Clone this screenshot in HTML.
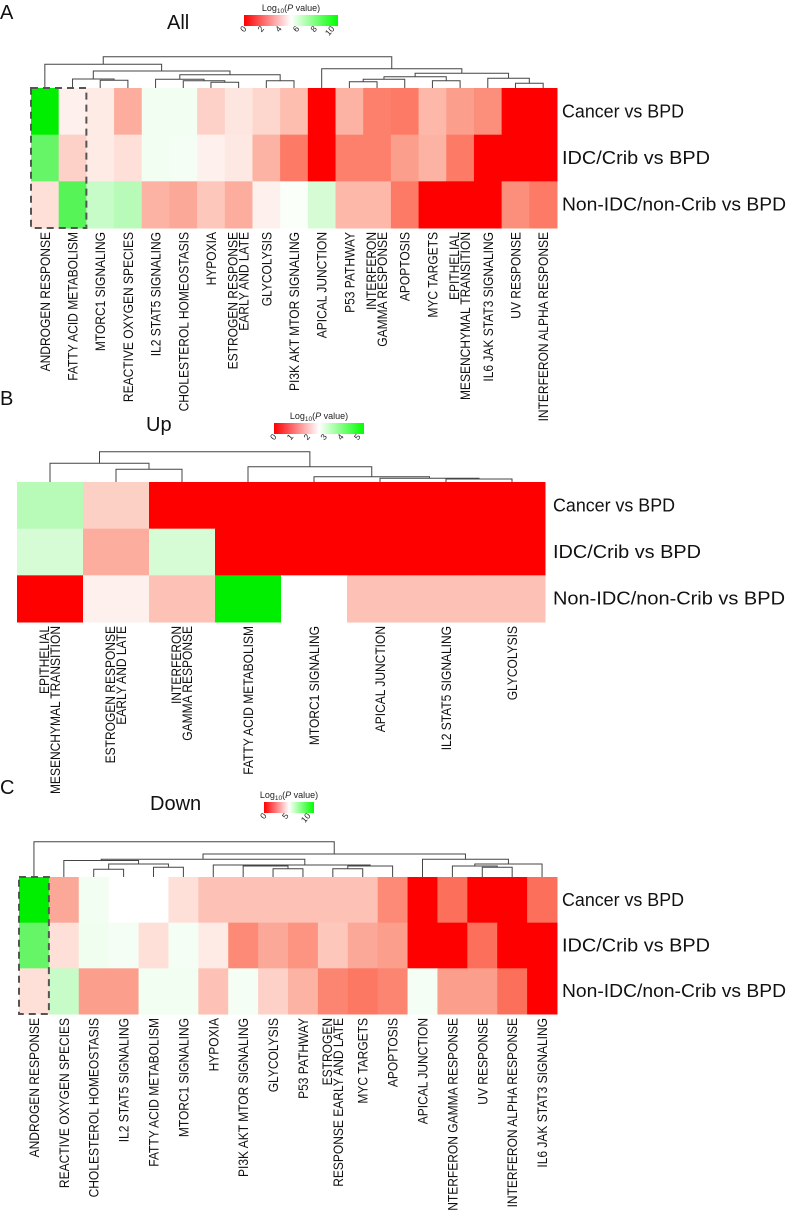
<!DOCTYPE html>
<html><head><meta charset="utf-8"><style>
html,body{margin:0;padding:0;background:#fff;}
svg{display:block;font-family:"Liberation Sans",sans-serif;}
</style></head><body>
<svg id="fig" width="788" height="1210" viewBox="0 0 788 1210" xmlns="http://www.w3.org/2000/svg">
<defs>
<linearGradient id="gradA" x1="0" x2="1" y1="0" y2="0"><stop offset="0" stop-color="#ff0000"/><stop offset="0.5" stop-color="#ffffff"/><stop offset="1" stop-color="#00ff00"/></linearGradient>
</defs>
</svg>
<script>
// ---------- data ----------
const rowLabels = ["Cancer vs BPD","IDC/Crib vs BPD","Non-IDC/non-Crib vs BPD"];

const catsA = ["ANDROGEN RESPONSE","FATTY ACID METABOLISM","MTORC1 SIGNALING","REACTIVE OXYGEN SPECIES","IL2 STAT5 SIGNALING","CHOLESTEROL HOMEOSTASIS","HYPOXIA","ESTROGEN RESPONSE\nEARLY AND LATE","GLYCOLYSIS","PI3K AKT MTOR SIGNALING","APICAL JUNCTION","P53 PATHWAY","INTERFERON\nGAMMA RESPONSE","APOPTOSIS","MYC TARGETS","EPITHELIAL\nMESENCHYMAL TRANSITION","IL6 JAK STAT3 SIGNALING","UV RESPONSE","INTERFERON ALPHA RESPONSE"];
const cancerA = [10,4.7,4.6,3.4,5.25,5.25,4.1,4.5,4.2,3.7,0,3.5,2.5,2.4,3.6,3.1,2.8,0,0];
const idcA    = [8,4.1,4.6,4.4,5.25,5.2,4.7,4.55,3.5,2.4,0,2.5,2.5,3.1,3.5,2.4,0,0,0];
const nonA    = [4.4,8.3,6.1,6.4,3.5,3.3,3.9,3.4,4.7,5.1,5.8,3.6,3.6,2.4,0,0,0,2.8,2.4];
const ticksA = ["0","2","4","6","8","10"];
const mergesA = [[2,3,80.3],[1,"m0",79],[6,7,82.3],[5,"m2",80.7],[4,"m3",79.3],[8,9,80.7],["m4","m5",74.7],["m1","m6",71],[0,"m7",64.3],
 [11,12,81.7],["m9",13,79.3],[14,15,80.7],["m10","m11",76.7],[17,18,83.3],[16,"m13",78.3],["m12","m14",73.3],[10,"m15",68.7],["m8","m16",56.7]];

const catsB = ["EPITHELIAL\nMESENCHYMAL TRANSITION","ESTROGEN RESPONSE\nEARLY AND LATE","INTERFERON\nGAMMA RESPONSE","FATTY ACID METABOLISM","MTORC1 SIGNALING","APICAL JUNCTION","IL2 STAT5 SIGNALING","GLYCOLYSIS"];
const cancerB = [3.2,2.04,0,0,0,0,0,0];
const idcB    = [2.9,1.7,2.9,0,0,0,0,0];
const nonB    = [0,2.35,1.9,5,2.5,1.9,1.9,1.9];
const ticksB = ["0","1","2","3","4","5"];
const mergesB = [[1,2,469.3],[0,"m0",463.3],[6,7,479],[5,"m2",478.3],[4,"m3",476.7],[3,"m4",466.7],["m1","m5",451.7]];

const catsC = ["ANDROGEN RESPONSE","REACTIVE OXYGEN SPECIES","CHOLESTEROL HOMEOSTASIS","IL2 STAT5 SIGNALING","FATTY ACID METABOLISM","MTORC1 SIGNALING","HYPOXIA","PI3K AKT MTOR SIGNALING","GLYCOLYSIS","P53 PATHWAY","ESTROGEN\nRESPONSE EARLY AND LATE","MYC TARGETS","APOPTOSIS","APICAL JUNCTION","INTERFERON GAMMA RESPONSE","UV RESPONSE","INTERFERON ALPHA RESPONSE","IL6 JAK STAT3 SIGNALING"];
const cancerC = [10,3.3,5.25,5.0,5.0,4.4,3.8,3.8,3.8,3.8,3.8,3.8,2.7,0,2.2,0,0,2.2];
const idcC    = [8,4.4,5.3,5.2,4.4,5.2,4.6,2.7,3.3,2.9,3.9,3.3,3.1,0,0,2.2,0,0];
const nonC    = [4.4,6.1,3.1,3.1,5.25,5.25,3.8,5.2,4.1,3.5,2.6,2.35,2.6,5.2,3.1,3.1,2.2,0];
const ticksC = ["0","5","10"];
const mergesC = [[2,3,869.3],[4,5,867.3],["m0","m1",864],[8,9,868.7],[7,"m3",866],[6,"m4",865],[10,11,868.7],["m6",12,866],["m5","m7",865],[1,"m2",860.5],["m9","m8",859.3],[15,16,867.3],[14,"m11",866],["m12",17,864],[13,"m13",859.3],["m10","m14",854],[0,"m15",841.7]];

// ---------- drawing ----------
const NS = "http://www.w3.org/2000/svg";
const svg = document.getElementById("fig");
function mk(tag, attrs, parent){
  const e = document.createElementNS(NS, tag);
  for (const k in attrs) e.setAttribute(k, attrs[k]);
  (parent||svg).appendChild(e);
  return e;
}
function colorFor(v, max){
  const t = Math.max(0, Math.min(1, v/max));
  let r,g,b;
  if (t < 0.5){ const f = t/0.5; r=Math.round(255 - 6*(1-f)*f*2); g=Math.round(255*f); b=Math.round(255*Math.pow(f,1.25)); }
  else { const f=(t-0.5)/0.5; r=Math.round(255*(1-f)); g=Math.round(255 - 17*f); b=Math.round(255*(1-f)); }
  return "rgb("+r+","+g+","+b+")";
}
function drawPanel(p){
  const g = mk("g", {});
  
  
  const n = p.cats.length;
  const cw = (p.x1 - p.x0)/n;
  const rh = (p.y1 - p.y0)/p.series.length;
  const xC = i => p.x0 + (i+0.5)*cw;
  p.series.forEach((vals, r) => {
    vals.forEach((v, c) => {
      const cell = mk("rect", {x:p.x0 + c*cw, y:p.y0 + r*rh, width:cw+0.5, height:rh+0.5, fill:colorFor(v, p.max)}, g);
      
      
    });
    const lab = mk("text", {x:p.rowX, y:p.y0 + r*rh + rh/2 + 6, "font-size":18, fill:"#111", textLength:p.rowW[r], lengthAdjust:"spacingAndGlyphs"}, g);
    lab.textContent = rowLabels[r];
    
    
  });
  p.cats.forEach((name, c) => {
    const lines = name.split("\n");
    lines.forEach((ln, k) => {
      const off = lines.length === 1 ? 5 : (k === 0 ? -1 : 10);
      const t = mk("text", {transform:"translate("+(xC(c)+off)+","+(p.y1+4)+") rotate(-90) scale(0.89,1)", "text-anchor":"end", "font-size":13.5, fill:"#111"}, g);
      t.textContent = ln;
      
      
    });
  });
  const nodes = [];
  const pos = id => typeof id === "number" ? {x:xC(id), y:p.y0} : nodes[+id.slice(1)];
  p.merges.forEach(m => {
    const a = pos(m[0]), b = pos(m[1]), y = m[2];
    const path = mk("path", {d:"M"+a.x+","+a.y+"V"+y+"H"+b.x+"V"+b.y, fill:"none", stroke:"#444", "stroke-width":1}, g);
    
    
    nodes.push({x:(a.x+b.x)/2, y:y});
  });
  if (p.box){
    const bx = mk("rect", {x:p.x0, y:p.y0, width:cw*p.box, height:p.y1-p.y0, fill:"none", stroke:"#555", "stroke-width":2, "stroke-dasharray":"7,5"}, g);
    
    
  }
  const L = mk("text", {x:0, y:p.letterY, "font-size":20, fill:"#111"}, g);
  L.textContent = p.letter;
  
  
  const T = mk("text", {x:p.titleX, y:p.titleY, "font-size":20, fill:"#111"}, g);
  T.textContent = p.title;
  
  
  const lt = mk("text", {x:(p.lx0+p.lx1)/2, y:p.ly0-4, "font-size":9, "text-anchor":"middle", fill:"#222"}, g);
  lt.innerHTML = 'Log<tspan font-size="6.5" dy="2">10</tspan><tspan dy="-2">(</tspan><tspan font-style="italic">P</tspan> value)';
  
  
  const cb = mk("rect", {x:p.lx0, y:p.ly0, width:p.lx1-p.lx0, height:11, fill:"url(#gradA)"}, g);
  
  
  p.ticks.forEach((tk, i) => {
    const tx = p.lx0 + 3 + i*(p.lx1-p.lx0-6)/(p.ticks.length-1);
    const t = mk("text", {transform:"translate("+tx+","+(p.ly0+14)+") rotate(-50)", "text-anchor":"end", "font-size":8.5, fill:"#222"}, g);
    t.textContent = tk;
    
    
  });
}

drawPanel({name:"all", letter:"A", letterY:19, title:"All", titleX:167, titleY:29, cats:catsA, series:[cancerA,idcA,nonA], max:10,
  x0:31, x1:557, y0:88, y1:228, rowX:562, rowW:[122,148,224], merges:mergesA, box:2, ticks:ticksA, lx0:244, lx1:338, ly0:15});
drawPanel({name:"up", letter:"B", letterY:405, title:"Up", titleX:146, titleY:431, cats:catsB, series:[cancerB,idcB,nonB], max:5,
  x0:17, x1:545, y0:482, y1:622, rowX:553, rowW:[122,148,232], merges:mergesB, box:0, ticks:ticksB, lx0:274, lx1:364, ly0:423});
drawPanel({name:"down", letter:"C", letterY:794, title:"Down", titleX:150, titleY:810, cats:catsC, series:[cancerC,idcC,nonC], max:10,
  x0:19, x1:557, y0:877, y1:1014, rowX:562, rowW:[122,148,224], merges:mergesC, box:1, ticks:ticksC, lx0:264, lx1:314, ly0:802});
</script>
</body></html>
